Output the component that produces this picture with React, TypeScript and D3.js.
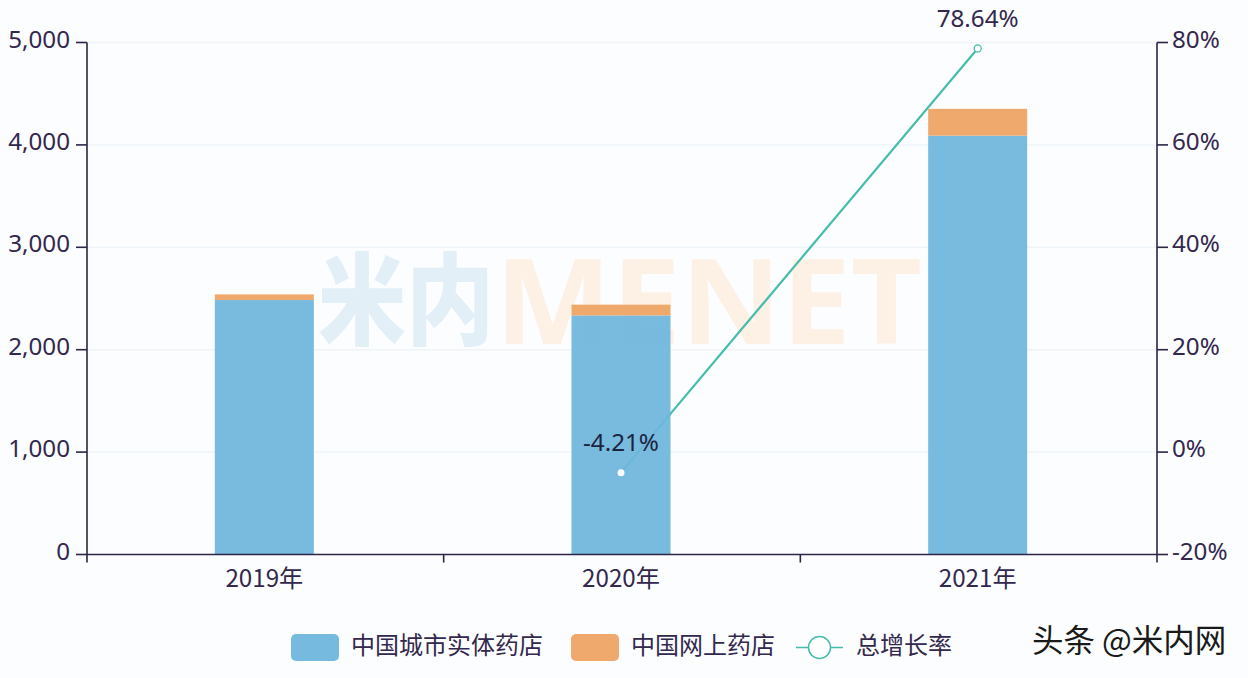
import React from "react";
import * as d3 from "d3";

const categories = ["2019年", "2020年", "2021年"];
const physicalStores = [2485, 2335, 4090];
const onlineStores = [55, 105, 262];
const growthRate = [null, -4.21, 78.64];
const growthLabels = ["", "-4.21%", "78.64%"];
const leftTicks = [0, 1000, 2000, 3000, 4000, 5000];
const rightTicks = [-20, 0, 20, 40, 60, 80];
const legendNames = ["中国城市实体药店", "中国网上药店", "总增长率"];
const watermarkCn = "米内";
const watermarkEn = "MENET";
const credit = "头条 @米内网";

const BG = "#fcfdfe";
const BLUE = "#76bbdf";
const BAR_BLUE = "#6eb6dc";
const ORANGE = "#efa96c";
const TEAL = "#45bdaa";
const AXIS = "#2d2448";
const TEXT = "#33284d";
const GRID = "#eef4f8";
const FONT = "'Noto Sans CJK SC','Noto Sans',sans-serif";
const LATIN = "'Noto Sans','Noto Sans CJK SC',sans-serif";
const FS = 24.2;
const CJK_FS = 24;

const left = 87;
const right = 1157;
const top = 42.5;
const bottom = 554.5;

const x = d3.scaleBand<string>().domain(categories).range([left, right]);
const y = d3.scaleLinear().domain([0, 5000]).range([bottom, top]);
const yr = d3.scaleLinear().domain([-20, 80]).range([bottom, top]);
const BAR_W = 99;
const cx = (c: string) => (x(c) as number) + x.bandwidth() / 2 - 1;

const stackRows = categories.map((c, i) => ({ c, a: physicalStores[i], b: onlineStores[i] }));
const stacked = d3.stack<any>().keys(["a", "b"])(stackRows);
const barColors = [BAR_BLUE, ORANGE];

const linePoints = categories
  .map((c, i) => ({ c, v: growthRate[i] }))
  .filter((d) => d.v !== null) as { c: string; v: number }[];
const linePath = d3
  .line<{ c: string; v: number }>()
  .x((d) => cx(d.c))
  .y((d) => yr(d.v) - 1)(linePoints) as string;

export default function App() {
  return (
    <svg
      width={1248}
      height={678}
      style={{ position: "absolute", left: 0, top: 0, display: "block", background: BG }}
    >
      {leftTicks.slice(1).map((t) => (
        <line key={t} x1={left} x2={right} y1={y(t)} y2={y(t)} stroke={GRID} strokeWidth={1.5} />
      ))}

      <text x={0} y={0} transform="translate(318,337) scale(1,1.136)" fontFamily={FONT} fontWeight={900} fontSize={88} fill="#e3eff6">
        {watermarkCn}
      </text>
      <text x={495} y={344} fontFamily={LATIN} fontWeight={700} fontSize={119} fill="#fdf1e6" textLength={427} lengthAdjust="spacingAndGlyphs">
        {watermarkEn}
      </text>

      <path d={linePath} fill="none" stroke={TEAL} strokeWidth={2.2} />

      {stacked.map((s, si) =>
        s.map((d, i) => (
          <rect
            key={`${si}-${i}`}
            x={cx(categories[i]) - BAR_W / 2}
            width={BAR_W}
            y={y(d[1])}
            height={y(d[0]) - y(d[1])}
            fill={barColors[si]}
            fillOpacity={si === 0 ? 0.93 : 1}
          />
        ))
      )}

      <circle cx={cx(categories[1])} cy={yr(-4.21) - 1} r={3.5} fill="#fff" />
      <circle cx={cx(categories[2])} cy={yr(78.64) - 1} r={3.5} fill="#fff" stroke={TEAL} strokeWidth={1.3} />
      {linePoints.map((d) => (
        <text
          key={d.c}
          x={cx(d.c)}
          y={d.v < 0 ? 451 : 27}
          textAnchor="middle"
          fontFamily={LATIN}
          fontSize={FS}
          fill={d.v < 0 ? "#1d2440" : TEXT}
        >
          {growthLabels[categories.indexOf(d.c)]}
        </text>
      ))}

      <g stroke={AXIS} strokeWidth={1.6} fill="none">
        <line x1={left} x2={left} y1={top} y2={bottom} />
        <line x1={right} x2={right} y1={top} y2={bottom} />
        <line x1={left} x2={right} y1={bottom} y2={bottom} />
        {leftTicks.map((t) => (
          <line key={t} x1={left - 11} x2={left} y1={y(t)} y2={y(t)} />
        ))}
        {rightTicks.map((t) => (
          <line key={t} x1={right} x2={right + 11} y1={yr(t)} y2={yr(t)} />
        ))}
        {categories.map((c) => (
          <line key={c} x1={x(c)} x2={x(c)} y1={bottom} y2={bottom + 8} />
        ))}
        <line x1={right} x2={right} y1={bottom} y2={bottom + 8} />
      </g>

      <g fontFamily={LATIN} fontSize={FS} fill={TEXT}>
        {leftTicks.map((t) => (
          <text key={t} x={70} y={y(t) + 5} textAnchor="end">
            {d3.format(",")(t)}
          </text>
        ))}
        {rightTicks.map((t) => (
          <text key={t} x={1172} y={yr(t) + 5}>
            {t}%
          </text>
        ))}
        {categories.map((c) => (
          <text key={c} x={cx(c)} y={587} textAnchor="middle" fontFamily={FONT}>
            {c}
          </text>
        ))}
      </g>

      <rect x={291} y={634} width={48} height={27} rx={5} fill={BLUE} />
      <text x={351} y={654} fontFamily={FONT} fontSize={CJK_FS} fill={TEXT}>{legendNames[0]}</text>
      <rect x={571} y={634} width={48} height={27} rx={5} fill={ORANGE} />
      <text x={631} y={654} fontFamily={FONT} fontSize={CJK_FS} fill={TEXT}>{legendNames[1]}</text>
      <line x1={796} x2={843} y1={647.5} y2={647.5} stroke={TEAL} strokeWidth={1.5} />
      <circle cx={819.5} cy={647.5} r={11} fill="#fff" stroke={TEAL} strokeWidth={1.5} />
      <text x={856} y={654} fontFamily={FONT} fontSize={CJK_FS} fill={TEXT}>{legendNames[2]}</text>

      <text x={1032} y={652} fontFamily={FONT} fontSize={31.5} fill="#1a1a1a">{credit}</text>
    </svg>
  );
}
